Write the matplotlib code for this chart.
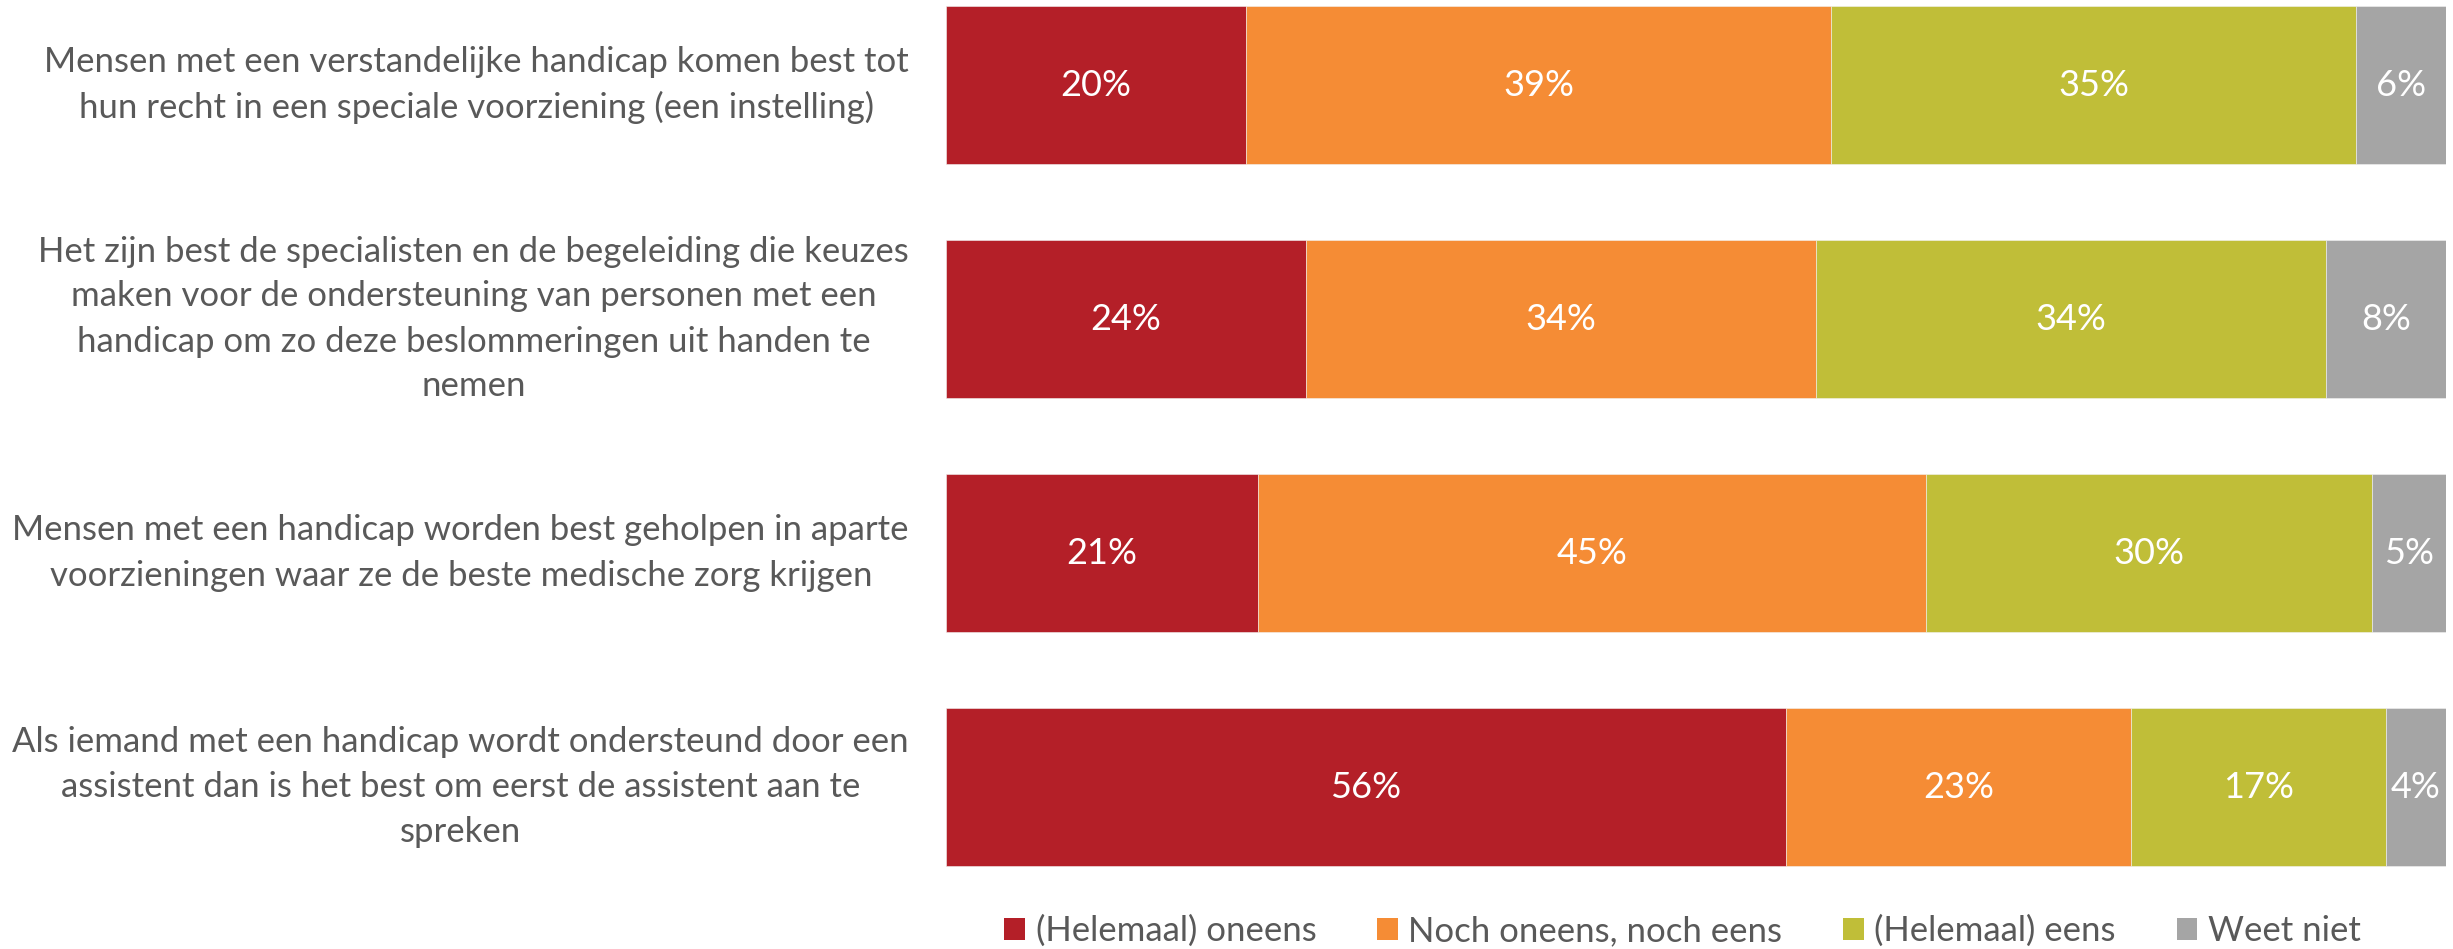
import matplotlib
matplotlib.use("Agg")
import matplotlib.pyplot as plt
from matplotlib.patches import Patch
import numpy as np

# Survey statements (one row per statement, already wrapped)
statements = [
    "Mensen met een verstandelijke handicap komen best tot\nhun recht in een speciale voorziening (een instelling)",
    "Het zijn best de specialisten en de begeleiding die keuzes\nmaken voor de ondersteuning van personen met een\nhandicap om zo deze beslommeringen uit handen te\nnemen",
    "Mensen met een handicap worden best geholpen in aparte\nvoorzieningen waar ze de beste medische zorg krijgen",
    "Als iemand met een handicap wordt ondersteund door een\nassistent dan is het best om eerst de assistent aan te\nspreken",
]

categories = ["(Helemaal) oneens", "Noch oneens, noch eens", "(Helemaal) eens", "Weet niet"]

# Percentages per answer category
oneens = [20, 24, 21, 56]
neutraal = [39, 34, 45, 23]
eens = [35, 34, 30, 17]
weet_niet = [6, 8, 5, 4]

colors = ["#B41F28", "#F58C35", "#C0BE38", "#A5A5A5"]
text_color = "#595959"
font = "Lato"

W, H, DPI = 2453, 949, 100
fig = plt.figure(figsize=(W / DPI, H / DPI), dpi=DPI)
fig.patch.set_facecolor("white")

# Axes placement in pixels
left_px, right_px = 946, 2446
top_px, bottom_px = 0, 904
ax = fig.add_axes([left_px / W, 1 - bottom_px / H,
                   (right_px - left_px) / W, (bottom_px - top_px) / H])

series = np.array([oneens, neutraal, eens, weet_niet], dtype=float)
# 100% stacked: each row normalised to its own total
totals = series.sum(axis=0)
shares = series / totals * 100

y = np.arange(len(statements))
bar_h = 0.675
left = np.zeros(len(statements))
for k, (vals, raw) in enumerate(zip(shares, series)):
    ax.barh(y, vals, left=left, height=bar_h, color=colors[k],
            edgecolor="#F2F2F2", linewidth=0.4)
    for i in range(len(y)):
        ax.text(left[i] + vals[i] / 2, y[i], f"{int(raw[i])}%",
                ha="center", va="center", color="white",
                fontsize=26, family=font)
    left += vals

ax.set_xlim(0, 100)
ax.set_ylim(3 + (bottom_px - 787) / 234, -85 / 234)
ax.axis("off")

# Statement labels, right edge just left of the bars
for i, s in enumerate(statements):
    yy = ax.transData.transform((0, y[i]))[1] / H
    fig.text(909 / W, yy, s, ha="right", va="center", multialignment="center",
             color=text_color, fontsize=25, family=font, linespacing=1.5)

handles = [Patch(facecolor=c, edgecolor="none") for c in colors]
fig.legend(handles, categories, loc="center", bbox_to_anchor=(0.6859, 1 - 931 / H),
           ncol=4, frameon=False, prop={"family": font, "size": 25},
           handlelength=0.6, handleheight=0.6, handletextpad=0.3,
           columnspacing=1.75, labelcolor=text_color)

fig.savefig("out.png", dpi=DPI, facecolor="white")
